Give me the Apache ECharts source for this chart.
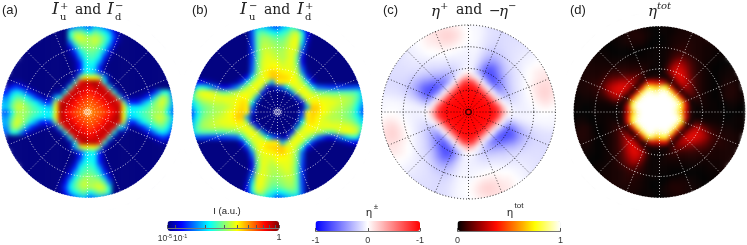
<!DOCTYPE html>
<html><head><meta charset="utf-8">
<style>html,body{margin:0;padding:0;background:#fff}
#heat,#over{position:absolute;left:0;top:0;width:747px;height:245px}
#heat{filter:blur(2px)}</style>
<script src="https://cdn.jsdelivr.net/npm/echarts@6/dist/echarts.min.js"></script></head>
<body><div id="heat"></div><div id="over"></div>
<script>
// Readings: one quadrant per disc (the discs have fourfold rotational symmetry).
// Rows run y=17..0 (top to centre), columns x=1..17, in 5px cells.
// Panels a, b, d: colourbar position 0-99. Panel c: eta -99..99.
const centreA = 72, centreB = 0, centreC = 99, centreD = 99;
const quadrantA = [
[32,30,25,15,5,0],
[48,44,38,30,14,3,0],
[56,53,46,36,18,4,0],
[57,53,44,32,11,2,0],
[52,46,38,20,5,0],
[46,42,28,10,1,0],
[43,36,16,3,0],
[38,26,7,0],
[34,14,2,0],
[32,18,4,0],
[62,54,28,3,0],
[96,88,40,4,0],
[92,94,88,40,4,0],
[87,90,93,88,42,5,0,0,0,0,1,3,9,24,40,40,22],
[84,86,90,93,88,44,7,1,3,3,7,16,30,46,56,50,27],
[80,82,86,90,93,86,48,16,13,15,26,35,46,54,59,50,30],
[78,80,83,87,90,94,64,38,36,36,40,44,50,54,56,44,27],
[75,77,80,84,88,92,60,36,36,40,44,47,52,52,54,37,22]];
const quadrantB = [
[30,34,42,34,14,0],
[40,44,54,56,38,12,0],
[46,52,58,60,42,12,0],
[50,54,60,60,34,6,0],
[52,56,60,58,26,3,0],
[54,57,60,53,18,1,0],
[54,57,60,47,10,0],
[56,59,60,47,10,0],
[59,59,59,52,18,1,0],
[63,62,60,56,26,4,0],
[66,65,62,59,46,17,3,0],
[63,63,62,60,55,39,12,1,0],
[22,38,56,60,60,55,39,22,20,18,17,17,17,18,19,20,22],
[0,4,28,56,62,60,55,50,47,47,45,45,45,45,45,42,32],
[0,0,0,16,52,62,60,59,58,58,56,56,56,54,52,46,32],
[0,0,0,0,12,52,63,63,61,60,60,58,56,54,52,42,30],
[0,0,0,0,1,28,67,67,62,60,58,56,54,52,48,38,24],
[0,0,0,0,16,62,67,65,62,60,56,54,52,50,46,35,20]];
const quadrantC = [
[-3,-3,-6,-10,-12,-13,-14],
[-2,-3,-6,-10,-12,-13,-14],
[-2,-3,-7,-11,-13,-14,-14,-13],
[-2,-4,-8,-12,-14,-15,-14,-13,-12],
[-3,-5,-10,-15,-17,-16,-14,-13,-12,-10],
[-4,-7,-14,-20,-22,-19,-16,-13,-11,-10,-8,-7],
[-5,-10,-20,-28,-30,-25,-19,-14,-11,-9,-7,-6,-4],
[-6,-15,-30,-42,-42,-33,-22,-15,-11,-9,-6,-4,-2,0],
[-8,-24,-46,-60,-58,-43,-27,-17,-12,-9,-5,-2,1,3,4],
[-5,-28,-54,-70,-65,-48,-30,-19,-13,-9,-4,0,4,7,8],
[15,-5,-37,-62,-70,-54,-35,-22,-14,-9,-4,0,4,8,10,10,8],
[70,25,-5,-42,-64,-54,-37,-23,-14,-9,-4,1,6,11,13,13,10],
[92,75,25,-5,-40,-52,-39,-25,-15,-9,-4,1,7,13,16,15,10],
[96,92,72,25,-5,-33,-34,-25,-16,-10,-5,0,6,13,17,16,10],
[98,96,92,72,25,-5,-22,-20,-15,-10,-6,-1,4,11,15,14,8],
[99,98,96,92,72,28,-2,-11,-12,-9,-6,-3,1,6,10,10,5],
[99,99,98,96,92,72,22,-2,-7,-7,-6,-4,-2,2,4,4,1],
[99,99,99,97,94,80,40,5,-4,-6,-6,-5,-4,-2,0,0,-1]];
const quadrantD = [
[1,1,1,2,2,2],
[1,1,1,2,3,3,3],
[0,1,2,3,3,3,3,3],
[0,1,2,3,4,4,4,3,3],
[1,1,3,4,5,5,4,3,3,2],
[1,2,4,6,7,6,4,3,3,2,2,1],
[1,2,6,10,12,9,6,4,3,2,2,1,1],
[1,3,11,20,22,15,9,5,3,2,1,1,0,0],
[1,6,20,28,28,20,11,6,3,2,1,0,0,1,1],
[1,8,24,32,32,24,12,6,4,2,1,0,1,1,2],
[3,1,12,28,34,26,14,7,4,2,1,0,1,2,2,2,2],
[32,16,1,16,30,26,15,7,4,2,1,0,1,3,3,3,2],
[84,76,35,1,16,24,16,7,4,2,1,0,2,3,4,4,2],
[99,97,78,35,1,12,14,8,4,2,1,0,1,3,4,4,2],
[99,99,97,78,35,1,8,6,4,2,1,0,1,3,4,3,2],
[99,99,99,97,78,32,1,3,3,2,1,1,0,1,2,2,1],
[99,99,99,95,78,35,4,1,1,2,1,1,0,0,1,1,0],
[99,99,99,92,66,28,4,1,1,1,1,1,1,0,0,0,0]];

const jetColors = ['#00007f','#0000ff','#007fff','#00ffff','#7fff7f','#ffff00','#ff7f00','#ff0000','#7f0000'];
const divColors = ['#0000ff','#ffffff','#ff0000'];
const hotColors = ['#000000','#5a0000','#b00000','#ff0a00','#ff5a00','#ffaa00','#ffff00','#ffff80','#ffffff'];

const discs = [
 {q:quadrantA,c:centreA,cx:87.5,cy:112,R:86,colors:jetColors,min:0,max:99,line:'#ffffff'},
 {q:quadrantB,c:centreB,cx:277.5,cy:112,R:86,colors:jetColors,min:0,max:99,line:'#ffffff'},
 {q:quadrantC,c:centreC,cx:468.5,cy:112,R:87,colors:divColors,min:-99,max:99,line:'#000000'},
 {q:quadrantD,c:centreD,cx:659.5,cy:112,R:86,colors:hotColors,min:0,max:99,line:'#ffffff'}
];
const N = 18, cell = 5;
const idx = Array.from({length:2*N+1},(_,i)=>i);
function lookup(d,x,y){
  if(x===0&&y===0) return d.c;
  for(let k=0;k<4&&!(x>=1&&y>=0);k++){const t=x;x=-y;y=t;}
  const row=d.q[17-Math.min(y,17)], i=Math.min(x,17)-1;
  return i<row.length?row[i]:row[row.length-1];
}
function cells(d){
  const out=[];
  for(let y=-N;y<=N;y++)for(let x=-N;x<=N;x++){
    if(x*x+y*y>(N+.5)*(N+.5)) continue;
    out.push([x+N,y+N,lookup(d,x,y)]);
  }
  return out;
}
const size=(2*N+1)*cell;
const heat=echarts.init(document.getElementById('heat'),null,{renderer:'canvas'});
heat.setOption({
  animation:false,
  grid:discs.map(d=>({left:d.cx-size/2,top:d.cy-size/2,width:size,height:size})),
  xAxis:discs.map((d,i)=>({type:'category',gridIndex:i,data:idx,show:false})),
  yAxis:discs.map((d,i)=>({type:'category',gridIndex:i,data:idx,show:false})),
  visualMap:discs.map((d,i)=>({type:'continuous',show:false,min:d.min,max:d.max,seriesIndex:i,inRange:{color:d.colors}})),
  series:discs.map((d,i)=>({type:'heatmap',xAxisIndex:i,yAxisIndex:i,data:cells(d),silent:true,progressive:0}))
});

// colourbars
const bars=[
 {left:167.5,w:111.5,colors:jetColors,min:0,max:99,
  ticks:[0,.0689,.3383,.5090,.6287,.7200,.7990,.8620,.9170,.9650,1],
  labels:{0:'{a|10}{s|-5}{p|}',0.0689:'{q|}{a|10}{s|-1}',1:'{c|1}'}},
 {left:315.5,w:104.5,colors:divColors,min:-99,max:99,
  ticks:[0,.5,1],labels:{0:'{c|-1}',0.5:'{c|0}',1:'{c|-1}'}},
 {left:457.5,w:103,colors:hotColors,min:0,max:99,
  ticks:[0,1],labels:{0:'{c|0}',1:'{c|1}'}}
];
const ink='#333', serif='DejaVu Serif', sans='Liberation Sans';
const pieces=[
 ['(a)',2,10,13,'normal',sans],['(b)',192,10,13,'normal',sans],['(c)',383,10,13,'normal',sans],['(d)',570,10,13,'normal',sans],
 ['I',52,10,17,'italic',serif],['+',60,6,10,'normal',serif],['u',60,17,10,'normal',serif],['and',75,10,14,'normal',serif],
 ['I',107,10,17,'italic',serif],['−',115,6,10,'normal',serif],['d',115,17,10,'normal',serif],
 ['I',240,10,17,'italic',serif],['−',249,6,10,'normal',serif],['u',249,17,10,'normal',serif],['and',264,10,14,'normal',serif],
 ['I',297,10,17,'italic',serif],['+',305,6,10,'normal',serif],['d',305,17,10,'normal',serif],
 ['η',431,12,15,'italic',serif],['+',440,6,10,'normal',serif],['and',456,10,14,'normal',serif],
 ['−',489,11,14,'normal',serif],['η',499,12,15,'italic',serif],['−',508,6,10,'normal',serif],
 ['η',648,12,15,'italic',serif],['tot',657,6,10,'italic',serif],
 ['I (a.u.)',227,211,9.5,'normal',sans,'center'],
 ['η',369,213,11,'normal',sans,'center'],['±',376,207,8,'normal',sans,'center'],
 ['η',510,213,11,'normal',sans,'center'],['tot',519,206,8,'normal',sans,'center']
];
const over=echarts.init(document.getElementById('over'),null,{renderer:'canvas'});
over.setOption({
  animation:false,
  backgroundColor:'transparent',
  graphic:{elements:[
    ...discs.map(d=>({type:'ring',silent:true,z:1,shape:{cx:d.cx,cy:d.cy,r:d.R+14,r0:d.R},style:{fill:'#fff'}})),
    ...pieces.map(p=>({type:'text',silent:true,z:20,x:p[1],y:p[2],style:{text:p[0],fontSize:p[3],fontStyle:p[4],fontFamily:p[5],fill:'#222',align:p[6]||'left',verticalAlign:'middle'}}))
  ]},
  polar:discs.map(d=>({center:[d.cx,d.cy],radius:d.R})),
  radiusAxis:discs.map((d,i)=>({polarIndex:i,type:'value',min:0,max:4,interval:1,z:5,axisLine:{show:false},axisTick:{show:false},axisLabel:{show:false},
    splitLine:{show:true,lineStyle:{color:d.line,type:[1,2],width:1,opacity:.85}}})),
  angleAxis:discs.map((d,i)=>({polarIndex:i,type:'value',min:0,max:360,interval:22.5,startAngle:90,z:5,axisLine:{show:false},axisTick:{show:false},axisLabel:{show:false},
    splitLine:{show:true,lineStyle:{color:d.line,type:[1,2],width:1,opacity:.7}}})),
  series:discs.map((d,i)=>({type:'scatter',coordinateSystem:'polar',polarIndex:i,data:[[0,0]],symbolSize:6,silent:true,z:6,
    itemStyle:{color:'transparent',borderColor:d.line,borderWidth:1}})),
  visualMap:bars.map(b=>({type:'continuous',orient:'horizontal',seriesIndex:[],min:b.min,max:b.max,left:b.left,top:221,padding:0,itemWidth:10,itemHeight:b.w,
    calculable:false,realtime:false,hoverLink:false,text:null,showLabel:false,inRange:{color:b.colors},label:{show:false},textStyle:{fontSize:0}})),
  grid:bars.map(b=>({left:b.left,width:b.w,top:221,height:10})),
  xAxis:bars.map((b,i)=>({type:'value',gridIndex:i,min:0,max:1,z:8,position:'bottom',splitLine:{show:false},
    axisLine:{show:true,lineStyle:{color:'#777',width:1}},
    axisTick:{show:true,inside:true,length:3,lineStyle:{color:'#555'},customValues:b.ticks},
    axisLabel:{show:true,margin:5,hideOverlap:false,showMinLabel:true,showMaxLabel:true,customValues:Object.keys(b.labels).map(Number),
      formatter:v=>b.labels[v]||'',
      rich:{a:{fontSize:8.5,fontFamily:sans,color:ink},s:{fontSize:5.5,fontFamily:sans,color:ink,verticalAlign:'top',padding:[0,0,3,0]},
        p:{width:5},q:{width:10},c:{fontSize:9,fontFamily:sans,color:ink}}}})),
  yAxis:bars.map((b,i)=>({type:'value',gridIndex:i,show:false,min:0,max:1}))
});
</script></body></html>
